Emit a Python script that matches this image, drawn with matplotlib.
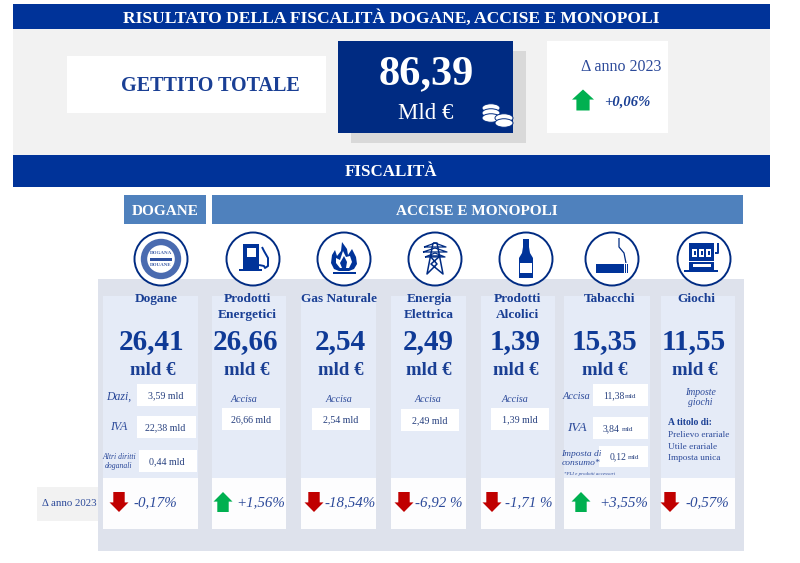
import matplotlib
matplotlib.use('Agg')
import matplotlib.pyplot as plt
from matplotlib.patches import Rectangle, Circle, Ellipse, Polygon

plt.rcParams['font.family'] = ['Liberation Serif', 'DejaVu Serif']

# data
titolo = 'RISULTATO DELLA FISCALITÀ DOGANE, ACCISE E MONOPOLI'
totale = '86,39'
delta_totale = '+0,06%'
categorie = ['Dogane', 'Prodotti\nEnergetici', 'Gas Naturale', 'Energia\nElettrica',
             'Prodotti\nAlcolici', 'Tabacchi', 'Giochi']
valori = ['26,41', '26,66', '2,54', '2,49', '1,39', '15,35', '11,55']
delta = ['-0,17%', '+1,56%', '-18,54%', '-6,92 %', '-1,71 %', '+3,55%', '-0,57%']
accise = ['26,66 mld', '2,54 mld', '2,49 mld', '1,39 mld']
dogane_voci = ['Dazi,', 'IVA', 'Altri diritti\ndoganali']
dogane_val = ['3,59 mld', '22,38 mld', '0,44 mld']
tabacchi_voci = ['Accisa', 'IVA', 'Imposta di\nconsumo*']
tabacchi_val = ['11,38', '3,84', '0,12']
giochi_voci = ['Prelievo erariale', 'Utile erariale', 'Imposta unica']

# layout
colonne = [(103, 198), (212, 286), (301, 376), (391, 466), (481, 555), (564, 650), (661, 735)]
icone_x = [161, 253, 344, 435, 526, 612, 704]
nomi_x = [156, 247, 339, 429, 517, 610, 696]
valori_x = [152, 246, 340, 428, 515, 604, 694]
frecce_x = [119, 223, 314, 404, 492, 581, 670]
delta_x = [133, 236, 324, 415, 505, 599, 685]
accise_box = [(222, 408), (312, 408), (401, 409), (491, 408)]
accise_lab = [(244, 399), (339, 399), (428, 399), (515, 399)]

BLU = '#003399'
NAVY = '#002B82'
MEDIO = '#4F81BD'
TESTO = '#1A3F94'
TESTO2 = '#2C4A9A'
ROSSO = '#C00000'
VERDE = '#00B050'

fig = plt.figure(figsize=(8, 5.63), dpi=100)
ax = fig.add_axes([0, 0, 1, 1])
ax.set_xlim(0, 800)
ax.set_ylim(563, 0)
ax.axis('off')


def box(x0, y0, x1, y1, color, z=1):
    ax.add_patch(Rectangle((x0, y0), x1 - x0, y1 - y0, fc=color, ec='none', zorder=z))


def txt(x, y, s, size, color=TESTO, weight='normal', style='normal', ha='center', ls=1.0):
    # va center sits a little high for serif capitals, so push it down by size
    ax.text(x, y + size * 0.1, s, fontsize=size, color=color, weight=weight, style=style, ha=ha,
            va='center', zorder=6, linespacing=ls)


def freccia(x, y, su, w=24, h=22):
    # x, y = centre of the arrow
    t = w * 0.3
    d = -1 if su else 1
    pts = [(x - t, y - d * h / 2), (x + t, y - d * h / 2), (x + t, y + d * h * 0.02),
           (x + w / 2, y + d * h * 0.02), (x, y + d * h / 2), (x - w / 2, y + d * h * 0.02),
           (x - t, y + d * h * 0.02)]
    ax.add_patch(Polygon(pts, fc=VERDE if su else ROSSO, ec='none', zorder=5))


def poly(x, y, pts, color=BLU, z=5):
    ax.add_patch(Polygon([(x + a, y + b) for a, b in pts], fc=color, ec='none', zorder=z))


def riga(x, y, pts, color=NAVY, lw=1.0):
    ax.plot([x + a for a, b in pts], [y + b for a, b in pts], color=color, lw=lw, zorder=5,
            solid_capstyle='butt')


def rett(x, y, a, b, c, d, color=BLU):
    ax.add_patch(Rectangle((x + a, y + b), c - a, d - b, fc=color, ec='none', zorder=5))


def icona_dogana(x, y):
    ax.add_patch(Circle((x, y), 17, fc='white', ec='#4A6BB0', lw=4.6, zorder=4))
    txt(x, y - 6, 'DOGANA', 3.6, '#3A5AA5', weight='bold')
    txt(x, y + 6, 'DOUANE', 3.6, '#3A5AA5', weight='bold')
    rett(x, y, -11, -1.5, 11, 1.5, '#2E50A0')


def icona_pompa(x, y):
    rett(x, y, -10, -15, 6, 11)
    rett(x, y, -14, 10, 9, 12)
    rett(x, y, -6, -11, 3, -2, 'white')
    riga(x, y, [(6, 6), (11, 7), (12, 9), (15, 7), (15, -1), (11, -8), (9, -12)], BLU, 1.4)


def icona_fiamma(x, y):
    poly(x, y, [(-2, -17), (3, -10), (4, -4), (8, -10), (12, -2), (13, 5), (10, 10), (5, 12),
                (-5, 12), (-10, 10), (-13, 4), (-12, -4), (-9, -9), (-7, -3), (-3, -8)])
    poly(x, y, [(-1, -8), (2, -2), (6, -3), (8, 3), (5, 9), (-4, 9), (-8, 4), (-8, -1), (-4, 1)],
         'white')
    poly(x, y, [(0, -3), (3, 3), (2, 9), (-2, 9), (-4, 4)])
    rett(x, y, -11, 13, 12, 15)


def icona_traliccio(x, y):
    riga(x, y, [(-2, -16), (-8, 15), (2, 5), (-5, -3), (5, -3), (-4, 5), (8, 15), (2, -16), (-2, -16)], NAVY, 1.1)
    for yy, w in [(-12, 11), (-7, 12), (-2, 10)]:
        riga(x, y, [(-w, yy), (w, yy), (0, yy - 4), (-w, yy)], NAVY, 0.9)


def icona_bottiglia(x, y):
    poly(x, y, [(-3, -20), (3, -20), (3, -12), (4, -6), (7, -1), (7, 19), (-7, 19), (-7, -1), (-4, -6), (-3, -12)])
    rett(x, y, -6, 4, 6, 14, 'white')


def icona_sigaretta(x, y):
    rett(x, y, -16, 5, 12, 14)
    rett(x, y, 13, 5, 14, 14)
    rett(x, y, 15, 5, 16, 14)
    riga(x, y, [(7, -21), (7, -12), (12, -6), (14, 4)], NAVY, 0.9)


def icona_slot(x, y):
    rett(x, y, -15, -16, 10, 2)
    for a in (-12, -5, 2):
        rett(x, y, a, -10, a + 5, -2, 'white')
        rett(x, y, a + 1.5, -8, a + 3.5, -4)
    rett(x, y, -15, 3, 10, 11)
    rett(x, y, -11, 5, 7, 8, 'white')
    rett(x, y, -20, 11, 14, 13)
    riga(x, y, [(11, -6), (14, -6), (14, -16)], BLU, 1.4)


# top section
box(13, 29, 770, 155, '#F2F2F2', 0)
box(13, 4, 770, 29, BLU)
txt(391, 17, titolo, 12.6, 'white', 'bold')
box(67, 56, 326, 113, 'white')
txt(210, 85, 'GETTITO TOTALE', 14.5, TESTO, 'bold')
box(351, 51, 526, 143, '#D9D9D9')
box(338, 41, 513, 133, NAVY, 2)
txt(426, 71, totale, 30.5, 'white', 'bold')
txt(426, 112, 'Mld €', 16.5, 'white')
for cx, cy in [(491, 108), (491, 113), (491, 118), (504, 118), (504, 123)]:
    ax.add_patch(Ellipse((cx, cy), 18, 8.5, fc='white', ec=NAVY, lw=0.7, zorder=5))
box(547, 41, 668, 133, 'white')
txt(621, 66, 'Δ anno 2023', 11.5, TESTO2)
freccia(583, 100, True, 22, 21)
txt(627, 101, delta_totale, 10.5, TESTO, 'bold', 'italic')

box(13, 155, 770, 187, BLU)
txt(391, 171, 'FISCALITÀ', 12.2, 'white', 'bold')

box(124, 195, 206, 224, MEDIO)
txt(165, 210, 'DOGANE', 11, 'white', 'bold')
box(212, 195, 743, 224, MEDIO)
txt(477, 210, 'ACCISE E MONOPOLI', 11, 'white', 'bold')

# lower panel and columns
box(98, 279, 744, 551, '#DEE2EC', 0)
box(37, 487, 98, 521, '#F2F2F2', 0)
txt(69, 503, 'Δ anno 2023', 7.8, TESTO2)

icone = [icona_dogana, icona_pompa, icona_fiamma, icona_traliccio, icona_bottiglia,
         icona_sigaretta, icona_slot]
for i, (x0, x1) in enumerate(colonne):
    box(x0, 296, x1, 478, '#E5EBF7')
    box(x0, 478, x1, 529, '#FDFDFE')
    ax.add_patch(Circle((icone_x[i], 259), 26.5, fc='white', ec=NAVY, lw=1.4, zorder=3))
    icone[i](icone_x[i], 259)
    txt(nomi_x[i], 306 if '\n' in categorie[i] else 298, categorie[i], 9.6, TESTO, 'bold', ls=1.5)
    txt(valori_x[i], 339, valori[i], 21, '#0F3A96', 'bold')
    txt(valori_x[i] + 1, 369, 'mld €', 13.5, TESTO, 'bold')
    su = delta[i].startswith('+')
    freccia(frecce_x[i], 502, su, 19, 20)
    txt(delta_x[i], 502, delta[i], 10.8, TESTO2, style='italic', ha='left')

# Dogane detail
dogane_box = [(137, 196, 384, 406), (137, 196, 416, 438), (139, 197, 450, 472)]
dogane_lab_y = [396, 426, 461]
for (a, b, c, d), lab, val, yl in zip(dogane_box, dogane_voci, dogane_val, dogane_lab_y):
    box(a, c, b, d, 'white', 2)
    txt((a + b) / 2 - 1, (c + d) / 2, val, 7.2, '#27407F')
    if '\n' in lab:
        txt(119, yl, lab, 5.6, TESTO2, style='italic', ls=1.1)
    else:
        txt(119, yl, lab, 8.5, TESTO2, style='italic')

# Accise only columns
for (a, c), (lx, ly), val in zip(accise_box, accise_lab, accise):
    box(a, c, a + 58, c + 22, 'white', 2)
    txt(lx, ly, 'Accisa', 7.2, TESTO2, style='italic')
    txt(a + 29, c + 11, val, 7.2, '#27407F')

# Tabacchi detail
tab_box = [(593, 648, 384, 406), (593, 648, 417, 439), (599, 648, 446, 467)]
tab_lab = [(576, 396, 7.5), (577, 427, 9.5), (581, 458, 6.8)]
tab_val_x = [603, 603, 610]
tab_mld_x = [625, 622, 628]
for j, ((a, b, c, d), (lx, ly, fs), lab, val) in enumerate(zip(tab_box, tab_lab, tabacchi_voci, tabacchi_val)):
    box(a, c, b, d, 'white', 2)
    txt(tab_val_x[j], (c + d) / 2, val, 6.9, '#27407F', ha='left')
    txt(tab_mld_x[j], (c + d) / 2 + 0.5, 'mld', 5.2, '#27407F', ha='left')
    txt(lx, ly, lab, fs, TESTO2, style='italic', ls=1.1)
txt(589, 474, '*PLI e prodotti accessori', 3.6, TESTO2, style='italic')

# Giochi detail
txt(700, 397, 'Imposte\ngiochi', 7, TESTO2, style='italic', ls=1.2)
txt(668, 422, 'A titolo di:', 6.9, TESTO, 'bold', ha='left')
for y, v in zip([434, 446, 457], giochi_voci):
    txt(668, y, v, 6.7, TESTO2, ha='left')

fig.savefig('out.png', dpi=100)
